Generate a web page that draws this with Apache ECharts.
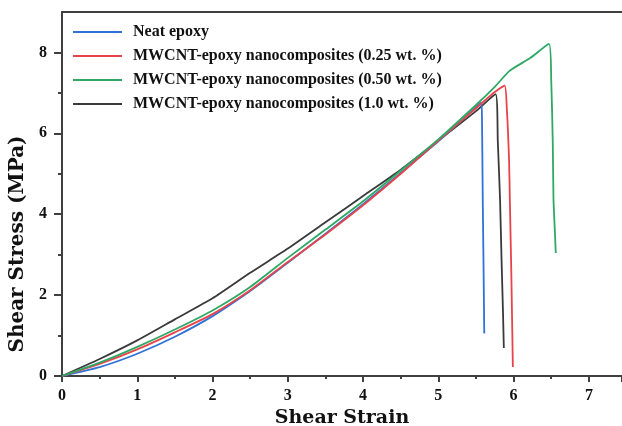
<!DOCTYPE html>
<html>
<head>
<meta charset="utf-8">
<script src="https://cdn.jsdelivr.net/npm/echarts@6/dist/echarts.min.js"></script>
<style>
  html, body { margin: 0; padding: 0; background: #fff; }
  #chart { width: 622px; height: 426px; }
</style>
</head>
<body>
<div id="chart"></div>
<script>
  // shear strain / shear stress (MPa)
  const seriesNames = [
    'Neat epoxy',
    'MWCNT-epoxy nanocomposites (0.25 wt. %)',
    'MWCNT-epoxy nanocomposites (0.50 wt. %)',
    'MWCNT-epoxy nanocomposites (1.0 wt. %)'
  ]
  const colors = ['#2f72d8', '#e8434b', '#2fa865', '#3a3a3a']
  const yTicks = [0, 2, 4, 6, 8]
  const yMinorTicks = [1, 3, 5, 7]

  const neatX = [0, 0.5, 1, 1.5, 2, 2.5, 3, 3.5, 4, 4.5, 5, 5.3, 5.57, 5.58, 5.59, 5.6, 5.61]
  const neatY = [0, 0.22, 0.55, 0.97, 1.48, 2.1, 2.8, 3.52, 4.25, 5.02, 5.8, 6.3, 6.76, 6.3, 4.35, 2.8, 1.05]

  const p025X = [0, 0.5, 1, 1.5, 2, 2.5, 3, 3.5, 4, 4.5, 5, 5.5, 5.75, 5.88, 5.91, 5.94, 5.95, 5.97, 5.99]
  const p025Y = [0, 0.3, 0.66, 1.08, 1.53, 2.12, 2.82, 3.5, 4.22, 5.0, 5.82, 6.62, 7.02, 7.18, 6.6, 5.3, 4.35, 2.5, 0.22]

  const p050X = [0, 0.5, 1, 1.5, 2, 2.5, 3, 3.5, 4, 4.5, 5, 5.5, 5.75, 5.95, 6.22, 6.47, 6.5, 6.52, 6.53, 6.55, 6.56]
  const p050Y = [0, 0.33, 0.72, 1.15, 1.62, 2.2, 2.92, 3.62, 4.32, 5.08, 5.85, 6.7, 7.15, 7.55, 7.86, 8.21, 7.3, 5.8, 4.35, 3.5, 3.04]

  const p10X = [0, 0.5, 1, 1.5, 2, 2.5, 3, 3.5, 4, 4.5, 5, 5.5, 5.76, 5.79, 5.82, 5.84, 5.86, 5.87]
  const p10Y = [0, 0.42, 0.88, 1.4, 1.92, 2.55, 3.15, 3.8, 4.45, 5.1, 5.82, 6.55, 6.97, 5.8, 4.35, 2.86, 1.5, 0.69]

  const xs = [neatX, p025X, p050X, p10X]
  const ys = [neatY, p025Y, p050Y, p10Y]

  const font = 'Liberation Serif'
  const wideFont = 'DejaVu Serif'
  const axisColor = '#404040'
  const chart = echarts.init(document.getElementById('chart'))
  chart.setOption({
    animation: false,
    grid: { left: 62, right: 0, top: 12, bottom: 50, outerBoundsMode: 'none', containLabel: false },
    legend: {
      orient: 'vertical',
      left: 73,
      top: 24,
      padding: 0,
      icon: 'rect',
      itemWidth: 49,
      itemHeight: 2,
      itemGap: 8,
      textStyle: { fontFamily: font, fontWeight: 'bold', fontSize: 16, color: '#111', padding: [0, 0, 0, 6] },
      data: seriesNames
    },
    graphic: [{
      type: 'text',
      x: 18,
      y: 244,
      rotation: Math.PI / 2,
      style: {
        text: 'Shear Stress (MPa)',
        fontFamily: wideFont,
        fontWeight: 'bold',
        fontSize: 20,
        fill: '#111',
        align: 'center',
        verticalAlign: 'middle'
      }
    }],
    xAxis: [{
      type: 'value',
      min: 0,
      max: 7.44,
      interval: 1,
      name: 'Shear Strain',
      nameLocation: 'middle',
      nameGap: 31,
      nameTextStyle: { fontFamily: wideFont, fontWeight: 'bold', fontSize: 19, color: '#111' },
      axisLine: { onZero: false, lineStyle: { color: axisColor, width: 2 } },
      axisTick: { length: 6, lineStyle: { color: axisColor, width: 2 } },
      minorTick: { show: true, splitNumber: 2, length: 3, lineStyle: { color: axisColor, width: 2 } },
      axisLabel: { fontFamily: font, fontWeight: 'bold', fontSize: 16, color: '#111', margin: 12, showMaxLabel: false },
      splitLine: { show: false }
    }, {
      type: 'value',
      position: 'top',
      min: 0,
      max: 7.44,
      axisLine: { show: true, onZero: false, lineStyle: { color: axisColor, width: 2 } },
      axisTick: { show: false },
      axisLabel: { show: false },
      splitLine: { show: false }
    }],
    yAxis: [{
      type: 'value',
      min: 0,
      max: 9,
      interval: 1,
      axisLine: { show: true, onZero: false, lineStyle: { color: axisColor, width: 2 } },
      axisTick: { length: 8, customValues: yTicks, lineStyle: { color: axisColor, width: 2 } },
      axisLabel: { fontFamily: font, fontWeight: 'bold', fontSize: 16, color: '#111', margin: 15, customValues: yTicks },
      splitLine: { show: false }
    }, {
      // minor ticks on the left axis
      type: 'value',
      position: 'left',
      min: 0,
      max: 9,
      interval: 1,
      axisLine: { show: false, onZero: false },
      axisTick: { length: 4, customValues: yMinorTicks, lineStyle: { color: axisColor, width: 2 } },
      axisLabel: { show: false },
      splitLine: { show: false }
    }],
    series: seriesNames.map((name, i) => ({
      name: name,
      type: 'line',
      data: xs[i].map((x, j) => [x, ys[i][j]]),
      showSymbol: false,
      smooth: 0.2,
      color: colors[i],
      lineStyle: { width: 1.8, color: colors[i] },
      z: i === 3 ? 2 : 3
    }))
  })
</script>
</body>
</html>
